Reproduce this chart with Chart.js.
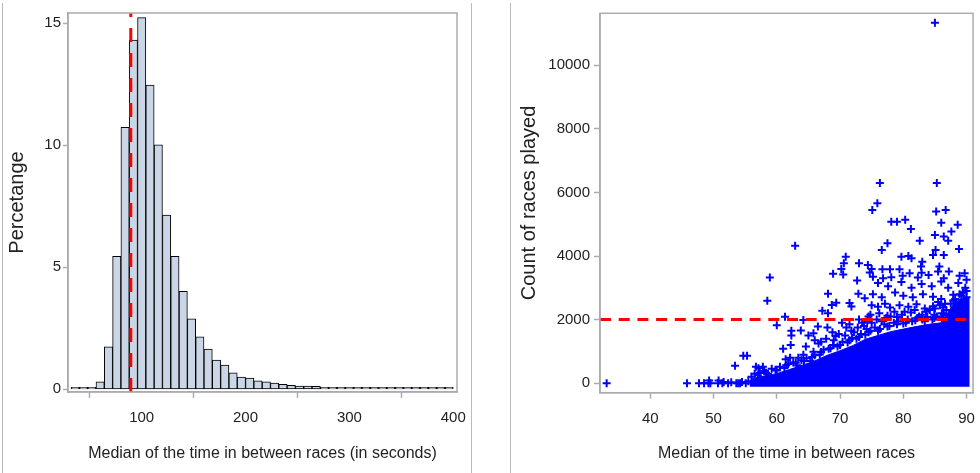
<!DOCTYPE html>
<html>
<head>
<meta charset="utf-8">
<script src="https://cdn.jsdelivr.net/npm/chart.js@4.4.1/dist/chart.umd.min.js"></script>
<style>
  body { margin: 0; background: #fff; }
  #wrap { position: relative; width: 980px; height: 473px; overflow: hidden; background: #fff; }
  .panel { position: absolute; top: 0; width: 490px; height: 473px; }
  .edge { position: absolute; top: 3px; bottom: 0; width: 0; border-left: 1.5px solid #b9bbbd; }
</style>
</head>
<body>
<div id="wrap">
  <div class="panel" style="left:0"><canvas id="histChart" width="490" height="473"></canvas></div>
  <div class="panel" style="left:490px"><canvas id="countChart" width="490" height="473"></canvas></div>
  <div class="edge" style="left:2px"></div>
  <div class="edge" style="left:471px"></div>
  <div class="edge" style="left:510px"></div>
</div>
<script>
// left panel: histogram of median time between races (bin width 8s)
const binMid = [36, 44, 52, 60, 68, 76, 84, 92, 100, 108, 116, 124, 132, 140, 148, 156,
  164, 172, 180, 188, 196, 204, 212, 220, 228, 236, 244, 252, 260, 268, 276, 284,
  292, 300, 308, 316, 324, 332, 340, 348, 356, 364, 372, 380, 388, 396];
const binPct = [0.01, 0.01, 0.05, 0.31, 1.74, 5.45, 10.74, 14.31, 15.23, 12.47, 10.02, 7.14, 5.45, 4.02, 2.89, 2.15,
  1.65, 1.20, 0.99, 0.68, 0.50, 0.46, 0.35, 0.31, 0.26, 0.20, 0.16, 0.13, 0.13, 0.12, 0.07, 0.07,
  0.04, 0.04, 0.05, 0.05, 0.04, 0.05, 0.03, 0.03, 0.03, 0.04, 0.02, 0.02, 0.02, 0.02];
const histXTicks = [100, 200, 300, 400];
const histYTicks = [0, 5, 10, 15];
const histXRange = [29.05, 403.6];
const histYRange = [-0.11, 15.42];
const medianTime = 89.5;

// right panel: count of races vs median time
const countXTicks = [40, 50, 60, 70, 80, 90];
const countYTicks = [0, 2000, 4000, 6000, 8000, 10000];
const countXRange = [32.05, 91.03];
const countYRange = [-300, 11635];
const countCutoff = 2000;

// top edge of the solid cloud of points near the bottom
const denseX = [55.7, 56, 57.3, 60, 62, 64, 66, 68, 70, 72, 74, 76, 78, 80, 82, 84, 86, 87, 88, 89, 90, 90.5];
const denseY = [0, 130, 200, 300, 430, 560, 700, 880, 1020, 1180, 1380, 1500, 1620, 1700, 1780, 1850, 1900, 2200, 2500, 2650, 2700, 2700];

const racePoints = [
  [33.1, 0], [45.8, 0], [47.7, 0], [48.5, 0], [49.2, 0], [49.3, 80], [49.5, 0], [50.7, 0], [50.8, 80],
  [51.4, 0], [51.6, 40], [52.3, 0], [52.8, 30], [53.4, 545], [53.6, 0], [53.9, 0], [54.2, 0], [54.5, 40],
  [54.7, 860], [55.1, 0], [55.3, 860], [55.5, 60], [56.7, 520], [57.8, 520], [57.1, 470],
  [58.5, 2590], [58.9, 3320], [60.0, 1820], [61.0, 1080], [61.3, 2090], [61.4, 750], [62.1, 800],
  [62.2, 1200], [62.3, 1650], [62.3, 1500], [62.9, 4320], [63.8, 1660], [64.2, 1990], [64.2, 890],
  [63.4, 800], [64.6, 1150], [65.0, 1500], [65.8, 1570], [65.8, 990], [66.5, 1780], [66.0, 1350],
  [66.6, 1250], [67.2, 2280], [68.0, 1750], [68.1, 2810], [68.1, 2200], [68.7, 2460], [68.8, 1600],
  [68.9, 3440], [69.3, 1480], [69.4, 2530], [70.2, 3590], [70.3, 1900], [70.5, 3420], [70.6, 3770],
  [70.9, 3980], [71.0, 1750], [71.5, 2520], [71.8, 2410], [71.8, 1650], [72.7, 3230], [72.9, 2810],
  [73.0, 3770], [73.0, 2000], [73.8, 1800], [73.9, 2670], [74.2, 1700], [74.4, 3720], [74.5, 2100],
  [74.7, 3480], [75.0, 3590],
  [75.1, 5450], [75.9, 5660], [76.3, 6300], [76.6, 4190], [77.5, 4400], [78.1, 5080], [79.0, 5080],
  [79.7, 3980], [80.3, 5140], [80.8, 4000], [81.2, 4850], [81.3, 3930], [82.6, 4480], [82.8, 3670],
  [83.0, 3820], [84.7, 4030], [85.0, 11340], [85.0, 4660], [85.1, 4190], [85.2, 5400], [85.3, 6300],
  [85.7, 3670], [86.0, 5050], [86.4, 4610], [86.4, 4030], [86.7, 5450], [87.1, 4480], [87.6, 4770],
  [88.6, 4980], [88.8, 4220],
  [76.7, 3580], [77.9, 3580], [79.4, 3580], [81.0, 3460], [82.9, 3470], [85.5, 3510], [87.2, 3510], [89.7, 3460],
  [75.2, 3350], [76.8, 3300], [78.1, 3330], [79.9, 3380], [82.3, 3320], [84.0, 3400], [86.4, 3300], [88.9, 3380],
  [76.0, 3150], [77.6, 3050], [79.7, 3180], [81.3, 3000], [82.9, 3120], [84.5, 3050], [86.0, 3200], [87.1, 3000], [88.7, 3150],
  [75.2, 2800], [76.6, 2700], [78.7, 2850], [80.0, 2750], [81.5, 2700], [83.1, 2800], [84.7, 2720], [86.0, 2650], [87.9, 2780], [89.4, 2850],
  [75.0, 2450], [76.0, 2400], [77.1, 2500], [77.9, 2380], [79.4, 2450], [80.8, 2400], [82.1, 2480], [83.4, 2350], [84.7, 2420], [86.3, 2380], [85.5, 2550],
  [74.8, 2150], [76.2, 2200], [77.5, 2120], [78.6, 2250], [79.8, 2150], [81.2, 2220], [82.5, 2100], [83.6, 2250], [84.9, 2150], [86.1, 2200], [87.3, 2150], [88.4, 2250],
  [90.0, 3250], [89.8, 3000], [90.0, 2900],
  [67.0, 1300], [67.8, 1400], [69.0, 1350], [69.8, 1550], [70.8, 1500], [71.5, 1850], [72.2, 1600], [72.8, 1750],
  [73.5, 1900], [74.3, 1950], [75.0, 1900], [75.8, 2000], [76.6, 1950], [77.3, 2050], [78.0, 2100], [79.0, 2080],
  [80.2, 2250], [81.8, 2300], [83.0, 2150], [84.2, 2300], [85.0, 2350], [85.8, 2450], [86.6, 2500],
  // ragged top of the cloud
  [56.0, 200], [56.5, 300], [57.3, 320], [58.0, 380], [58.6, 300], [59.2, 450], [59.8, 420], [60.5, 520],
  [61.2, 480], [61.8, 600], [62.6, 650], [63.2, 560], [63.9, 720], [64.7, 780], [65.3, 700], [66.0, 880],
  [66.8, 900], [67.4, 1050], [68.2, 1080], [68.9, 1200], [69.6, 1150], [70.4, 1300], [71.2, 1280], [71.9, 1420],
  [72.6, 1400], [73.3, 1550], [74.0, 1520], [74.8, 1650], [75.5, 1750], [76.3, 1700], [77.0, 1850], [77.8, 1800],
  [78.5, 1900], [79.2, 1950], [80.0, 1880], [80.7, 2000], [81.4, 1950], [82.2, 2050], [83.0, 2000], [83.8, 2080],
  [84.6, 2000], [85.3, 2100], [86.1, 2050], [86.8, 2300], [87.5, 2500], [88.2, 2650], [88.9, 2800], [89.5, 2850], [90.0, 2700],
  [57.0, 250], [58.3, 330], [60.0, 400], [61.5, 560], [63.0, 640], [64.3, 700], [65.6, 820], [67.0, 980],
  [68.5, 1100], [70.0, 1200], [71.5, 1350], [73.0, 1450], [74.5, 1600], [76.0, 1650], [77.5, 1780], [79.0, 1850],
  [80.4, 1900], [81.9, 1980], [83.4, 1950], [84.9, 2050], [86.4, 2150], [87.9, 2600], [89.2, 2750]
];

const axisGray = '#a9acb0';
const textColor = '#222';
const sans = "'Liberation Sans', Arial, sans-serif";

// box round the plot area, like the SAS frame
const frameBox = {
  id: 'frameBox',
  afterDatasetsDraw(chart) {
    const { ctx, chartArea: a } = chart;
    ctx.save();
    ctx.strokeStyle = axisGray;
    ctx.lineWidth = 1.5;
    ctx.strokeRect(a.left, a.top, a.right - a.left, a.bottom - a.top);
    ctx.restore();
  }
};

function xAxis(range, ticks, height, title) {
  return {
    type: 'linear', min: range[0], max: range[1], offset: false,
    afterBuildTicks: s => { s.ticks = ticks.map(v => ({ value: v })); },
    afterFit: s => { s.height = height; },
    grid: { drawOnChartArea: false, tickLength: 6, tickColor: axisGray, tickWidth: 1.5 },
    border: { color: axisGray, width: 1.5 },
    ticks: { color: textColor, padding: 5, maxRotation: 0, font: { family: sans, size: 15, lineHeight: 2 }, callback: v => String(v) },
    title: { display: true, text: title, color: textColor, padding: { top: 0, bottom: 10 }, font: { family: sans, size: 16 } }
  };
}

function yAxis(range, ticks, width, tickLen, pad, title, titlePad) {
  return {
    type: 'linear', min: range[0], max: range[1],
    afterBuildTicks: s => { s.ticks = ticks.map(v => ({ value: v })); },
    afterFit: s => { s.width = width; },
    grid: { drawOnChartArea: false, tickLength: tickLen, tickColor: axisGray, tickWidth: 1.5 },
    border: { color: axisGray, width: 1.5 },
    ticks: { color: textColor, padding: pad, font: { family: sans, size: 15, lineHeight: 1 }, callback: v => String(v) },
    title: { display: true, text: title, color: textColor, padding: { top: titlePad, bottom: 0 }, font: { family: sans, size: 20 } }
  };
}

const histChart = new Chart(document.getElementById('histChart'), {
  type: 'bar',
  data: {
    datasets: [
      {
        type: 'line',
        data: [{ x: medianTime, y: histYRange[0] }, { x: medianTime, y: histYRange[1] }],
        borderColor: '#ff0000', borderWidth: 3, borderDash: [14, 11], pointRadius: 0
      },
      {
        data: binMid.map((m, i) => ({ x: m, y: binPct[i] })),
        backgroundColor: '#cad5e5', borderColor: '#000', borderWidth: 1, borderSkipped: false,
        barPercentage: 1, categoryPercentage: 1, minBarLength: 2
      }
    ]
  },
  options: {
    responsive: false, animation: false, devicePixelRatio: 1,
    layout: { padding: { left: 0, right: 33, top: 13, bottom: 0 } },
    plugins: { legend: { display: false }, tooltip: { enabled: false } },
    scales: {
      x: xAxis(histXRange, histXTicks, 81, 'Median of the time in between races (in seconds)'),
      y: yAxis(histYRange, histYTicks, 68, 5, 2, 'Percetange', 5)
    }
  },
  plugins: [frameBox]
});

const countChart = new Chart(document.getElementById('countChart'), {
  type: 'scatter',
  data: {
    datasets: [
      {
        type: 'line',
        data: [{ x: countXRange[0], y: countCutoff }, { x: countXRange[1], y: countCutoff }],
        borderColor: '#ff0000', borderWidth: 3, borderDash: [11, 7.7], pointRadius: 0
      },
      {
        data: racePoints.map(([x, y]) => ({ x, y })),
        pointStyle: 'cross', pointRadius: 4, pointBorderWidth: 2,
        pointBorderColor: '#0000ff', borderColor: '#0000ff', backgroundColor: '#0000ff'
      },
      {
        type: 'line',
        data: denseX.map((x, i) => ({ x, y: denseY[i] })),
        fill: { value: -110 }, backgroundColor: '#0000ff', borderColor: '#0000ff',
        borderWidth: 1, pointRadius: 0, tension: 0
      }
    ]
  },
  options: {
    responsive: false, animation: false, devicePixelRatio: 1,
    layout: { padding: { left: 0, right: 6.7, top: 13.3, bottom: 0 } },
    plugins: { legend: { display: false }, tooltip: { enabled: false } },
    scales: {
      x: xAxis(countXRange, countXTicks, 80.3, 'Median of the time in between races'),
      y: yAxis(countYRange, countYTicks, 110, 6, 4, 'Count of races played', 27)
    }
  },
  plugins: [frameBox]
});
</script>
</body>
</html>
